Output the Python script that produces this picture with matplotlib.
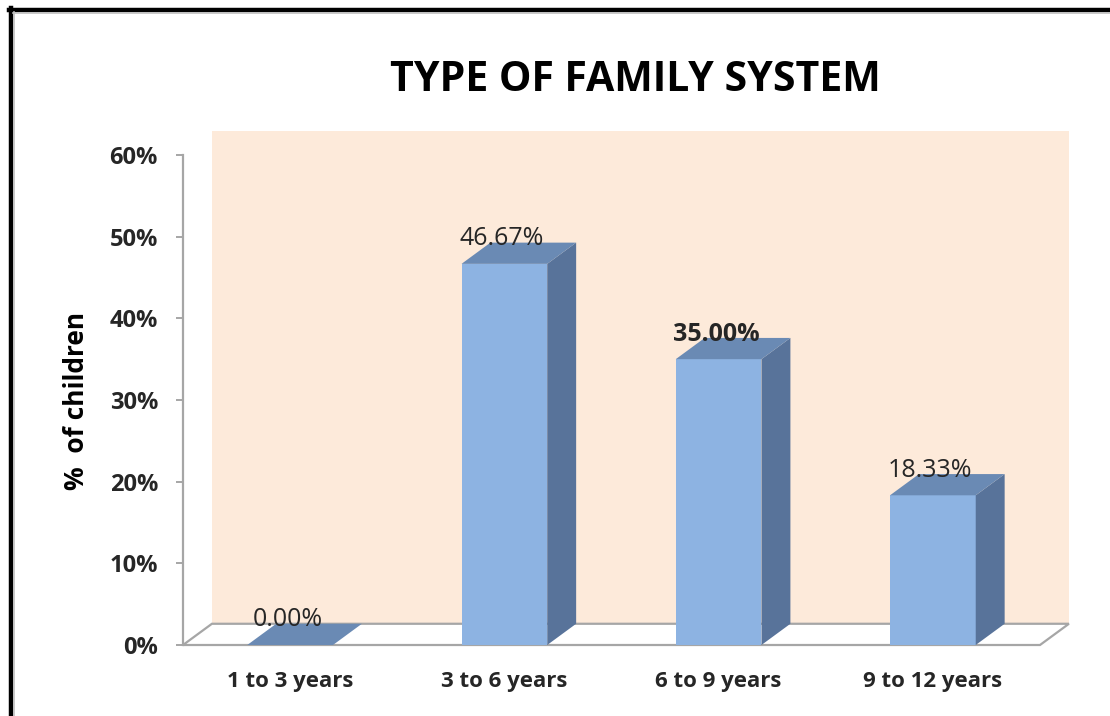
import matplotlib
matplotlib.use("Agg")
import matplotlib.pyplot as plt
from matplotlib.patches import Polygon
from matplotlib.lines import Line2D

# data
age_groups = ["1 to 3 years", "3 to 6 years", "6 to 9 years", "9 to 12 years"]
pct_children = [0.00, 46.67, 35.00, 18.33]
y_ticks = [0, 10, 20, 30, 40, 50, 60]

# colours for the faux-3D look
wall_color = "#FDEADA"
front_color = "#8DB3E2"
top_color = "#6A8AB4"
side_color = "#58739A"
edge_gray = "#A6A6A6"
text_color = "#262626"

plt.rcParams["font.family"] = ["Open Sans", "DejaVu Sans"]

fig = plt.figure(figsize=(11.1, 7.16), dpi=100)
W, H = 1110, 716
ax = fig.add_axes([183 / W, 71 / H, 857 / W, 490 / H])
ax.set_xlim(-0.5, 3.5)
ax.set_ylim(0, 60)
ax.patch.set_visible(False)

# depth of the 3D offset in data units
dx = 0.135
dy = 2.6
bw = 0.4
x0, x1 = -0.5, 3.5

# back wall and floor
wall = Polygon([(x0 + dx, dy), (x1 + dx, dy), (x1 + dx, 60 + dy + 0.3), (x0 + dx, 60 + dy + 0.3)],
               closed=True, facecolor=wall_color, edgecolor="none", clip_on=False, zorder=0)
ax.add_patch(wall)
floor = Polygon([(x0, 0), (x1, 0), (x1 + dx, dy), (x0 + dx, dy)],
                closed=True, facecolor="white", edgecolor=edge_gray, linewidth=1.6,
                clip_on=False, zorder=1)
ax.add_patch(floor)

# bars: front, top and right side faces
label_weights = ["normal", "normal", "bold", "normal"]
for i, v in enumerate(pct_children):
    l, r = i - bw / 2, i + bw / 2
    if v > 0:
        ax.add_patch(Polygon([(l, 0), (r, 0), (r, v), (l, v)], closed=True,
                             facecolor=front_color, edgecolor="none", clip_on=False, zorder=3))
        ax.add_patch(Polygon([(r, 0), (r + dx, dy), (r + dx, v + dy), (r, v)], closed=True,
                             facecolor=side_color, edgecolor="none", clip_on=False, zorder=3))
    ax.add_patch(Polygon([(l, v), (r, v), (r + dx, v + dy), (l + dx, v + dy)], closed=True,
                         facecolor=top_color, edgecolor="none", clip_on=False, zorder=3))
    ax.annotate(f"{v:.2f}%", xy=(i, v), xytext=(-2, 9), textcoords="offset points",
                ha="center", va="bottom", fontsize=18, color=text_color,
                fontweight=label_weights[i], zorder=5, annotation_clip=False)

# axes styling
for side in ["top", "right", "bottom"]:
    ax.spines[side].set_visible(False)
ax.spines["left"].set_color(edge_gray)
ax.spines["left"].set_linewidth(1.6)
ax.spines["left"].set_zorder(2)

ax.set_yticks(y_ticks)
ax.set_yticklabels([f"{t}%" for t in y_ticks])
ax.tick_params(axis="y", length=5, width=1.4, color=edge_gray, pad=13,
               labelsize=17, labelcolor=text_color)
for lbl in ax.get_yticklabels():
    lbl.set_fontweight("bold")

ax.set_xticks(range(len(age_groups)))
ax.set_xticklabels(age_groups)
ax.tick_params(axis="x", length=0, pad=19, labelsize=16, labelcolor=text_color)
for lbl in ax.get_xticklabels():
    lbl.set_fontweight("bold")

fig.text(76 / W, 1 - 401 / H, "%  of children", rotation=90, ha="center", va="center",
         fontsize=19, fontweight="bold", color="black")

fig.text(635 / W, 1 - 91 / H, "TYPE OF FAMILY SYSTEM", ha="center", va="baseline",
         fontsize=29.5, fontweight="bold", color="black")

# frame around the chart
fig.add_artist(Line2D([10.5 / W, 10.5 / W], [0, 1 - 8 / H], color="black", linewidth=3.2))
fig.add_artist(Line2D([9 / W, 1], [1 - 9.5 / H, 1 - 9.5 / H], color="black", linewidth=3.2))
fig.add_artist(Line2D([13.5 / W, 13.5 / W], [0, 1 - 12 / H], color="#BFBFBF", linewidth=1.2))
fig.add_artist(Line2D([13 / W, 1], [1 - 12.5 / H, 1 - 12.5 / H], color="#BFBFBF", linewidth=1.2))

fig.savefig("out.png", dpi=100)
